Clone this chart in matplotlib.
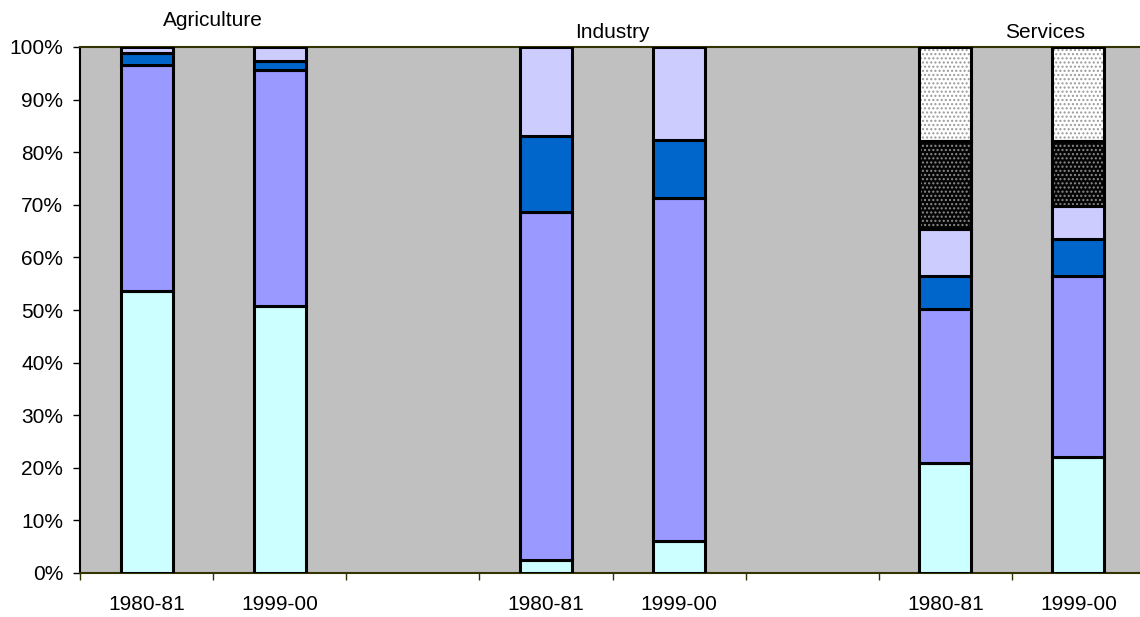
import numpy as np
from matplotlib import pyplot as plt
from matplotlib.ticker import FixedLocator, PercentFormatter

plt.rcParams['font.family'] = ['Liberation Sans', 'DejaVu Sans']
plt.rcParams['hatch.linewidth'] = 1.0

# period slots, empty strings are the gaps between sectors
periods = ['1980-81', '1999-00', '', '1980-81', '1999-00', '', '1980-81', '1999-00']
sectors = ['Agriculture', 'Industry', 'Services']

# share of each component (%), stacked bottom to top
comp1 = [53.6, 50.8, 0, 2.5, 6.1, 0, 20.9, 22.1]
comp2 = [43.0, 44.8, 0, 66.1, 65.2, 0, 29.3, 34.4]
comp3 = [2.3, 1.7, 0, 14.5, 11.0, 0, 6.3, 7.0]
comp4 = [1.1, 2.7, 0, 16.9, 17.7, 0, 8.9, 6.3]
comp5 = [0, 0, 0, 0, 0, 0, 16.7, 12.3]
comp6 = [0, 0, 0, 0, 0, 0, 17.9, 17.9]

FS = 15


def stackBar(ax, x, vals, bottom, face, hatch=None, dots=None):
    width = 0.39
    if hatch:
        bars = ax.bar(x, vals, width, bottom=bottom, color=face,
                      edgecolor=dots, linewidth=0, hatch=hatch, zorder=2)
        for b, v in zip(bars, vals):
            b.set_visible(v > 0)
        outline = ax.bar(x, vals, width, bottom=bottom, fill=False,
                         edgecolor='black', linewidth=2.2, zorder=3)
        for b, v in zip(outline, vals):
            b.set_visible(v > 0)
    else:
        bars = ax.bar(x, vals, width, bottom=bottom, color=face,
                      edgecolor='black', linewidth=2.2, zorder=3)
        for b, v in zip(bars, vals):
            b.set_visible(v > 0)
    return bottom + np.array(vals)


fig = plt.figure(figsize=(11.4, 6.17), dpi=100)
ax = fig.add_axes([80 / 1140, 44 / 617, 1065 / 1140, 526 / 617])
ax.set_facecolor('#C0C0C0')

x = np.arange(len(periods))
bottom = np.zeros(len(periods))
bottom = stackBar(ax, x, comp1, bottom, '#CCFFFF')
bottom = stackBar(ax, x, comp2, bottom, '#9999FF')
bottom = stackBar(ax, x, comp3, bottom, '#0066CC')
bottom = stackBar(ax, x, comp4, bottom, '#CCCCFF')
bottom = stackBar(ax, x, comp5, bottom, '#050505', hatch='....', dots='#8c8c8c')
bottom = stackBar(ax, x, comp6, bottom, 'white', hatch='....', dots='#9a9a9a')

ax.set_xlim(-0.5, len(periods) - 0.5)
ax.set_ylim(0, 100)
ax.yaxis.set_major_locator(FixedLocator(np.arange(0, 101, 10)))
ax.yaxis.set_major_formatter(PercentFormatter(decimals=0))

# ticks on slot boundaries, labels centred under the bars
ax.xaxis.set_major_locator(FixedLocator(np.arange(-0.5, len(periods), 1.0)))
ax.xaxis.set_major_formatter(plt.NullFormatter())
ax.xaxis.set_minor_locator(FixedLocator(x))
ax.set_xticklabels(periods, minor=True)
ax.tick_params(axis='x', which='major', direction='out', length=5, width=1, color='#333300')
ax.tick_params(axis='x', which='minor', length=0, pad=16, labelsize=FS)
ax.tick_params(axis='y', direction='out', length=5, width=1, pad=7, labelsize=FS)

for side in ['left', 'bottom', 'top']:
    ax.spines[side].set_color('#333300')
    ax.spines[side].set_linewidth(1.5)
ax.spines['left'].set_color('black')
ax.spines['right'].set_visible(False)

tr = ax.get_xaxis_transform()
ax.text(0.5, 1.051, sectors[0], transform=tr, ha='center', va='center', fontsize=FS)
ax.text(3.5, 1.027, sectors[1], transform=tr, ha='center', va='center', fontsize=FS)
ax.text(6.75, 1.027, sectors[2], transform=tr, ha='center', va='center', fontsize=FS)

fig.savefig('out.png', dpi=100)
